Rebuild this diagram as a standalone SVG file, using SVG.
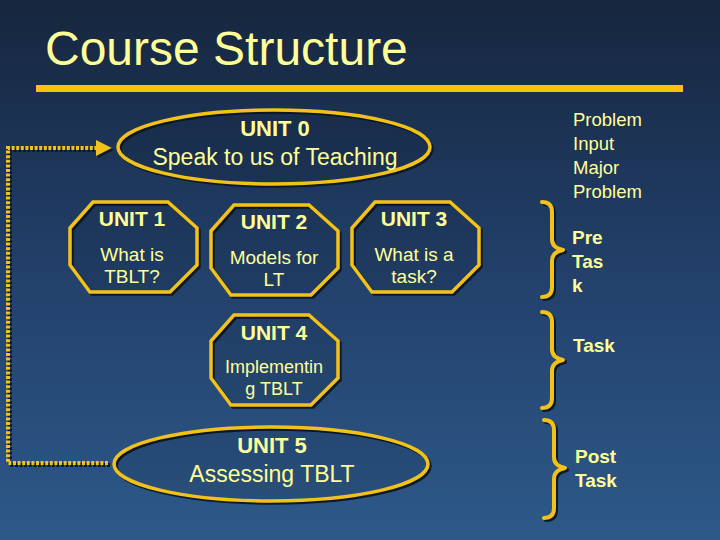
<svg xmlns="http://www.w3.org/2000/svg" width="720" height="540" viewBox="0 0 720 540">
<defs>
<linearGradient id="bg" x1="0" y1="0" x2="0" y2="1">
<stop offset="0" stop-color="#16263e"/>
<stop offset="0.5" stop-color="#22406a"/>
<stop offset="1" stop-color="#2d5989"/>
</linearGradient>
<marker id="arr" viewBox="0 0 10 10" refX="2" refY="5" markerWidth="4" markerHeight="4" orient="auto" markerUnits="strokeWidth">
<path d="M0,0 L10,5 L0,10 Z" fill="#f2c21a"/>
</marker>
<marker id="arrs" viewBox="0 0 10 10" refX="2" refY="5" markerWidth="4" markerHeight="4" orient="auto" markerUnits="strokeWidth">
<path d="M0,0 L10,5 L0,10 Z" fill="#0d1a2a"/>
</marker>
</defs>
<style>
.t{font-family:"Liberation Sans",Arial,sans-serif;fill:#ffff99;text-anchor:middle}
.b{font-weight:bold}
.l{text-anchor:start}
.shape{fill:#000;fill-opacity:0.08;stroke:#f2c21a;stroke-width:3.5}
.shd{fill:none;stroke:#0d1a2a;stroke-width:3.5}
.brace{fill:none;stroke:#f2c21a;stroke-width:4;stroke-linecap:round;stroke-linejoin:round}
.braces{fill:none;stroke:#0d1a2a;stroke-width:4;stroke-linecap:round;stroke-linejoin:round}
.dot{fill:none;stroke:#f2c21a;stroke-width:4;stroke-dasharray:3 1.6}
.dots{fill:none;stroke:#0d1a2a;stroke-width:4;stroke-dasharray:3 1.6}
</style>
<rect width="720" height="540" fill="url(#bg)"/>

<g id="title">
<text class="t l" x="45" y="65" font-size="48">Course Structure</text>
<rect x="36" y="85" width="647" height="7" fill="#f5c30f"/>
</g>

<g id="connectors">
<path class="dots" d="M110,465 H10 V150 H101" marker-end="url(#arrs)"/>
<path class="dot" d="M108,463 H8 V148 H99" marker-end="url(#arr)"/>
</g>

<g id="unit0">
<ellipse class="shd" cx="276" cy="149" rx="156" ry="37"/>
<ellipse class="shape" cx="274" cy="147" rx="156" ry="37"/>
<text class="t b" x="275" y="136" font-size="22">UNIT 0</text>
<text class="t" x="275" y="165" font-size="23">Speak to us of Teaching</text>
</g>

<g id="unit1">
<polygon class="shd" points="95,204 170,204 199,230 199,267 172,294 92,294 72,267 72,230"/>
<polygon class="shape" points="93,202 168,202 197,228 197,265 170,292 90,292 70,265 70,228"/>
<text class="t b" x="132" y="226" font-size="21">UNIT 1</text>
<text class="t" x="132" y="261" font-size="19">What is</text>
<text class="t" x="132" y="283" font-size="19">TBLT?</text>
</g>

<g id="unit2">
<polygon class="shd" points="236,207 311,207 340,233 340,270 313,297 233,297 213,270 213,233"/>
<polygon class="shape" points="234,205 309,205 338,231 338,268 311,295 231,295 211,268 211,231"/>
<text class="t b" x="274" y="229" font-size="21">UNIT 2</text>
<text class="t" x="274" y="264" font-size="19">Models for</text>
<text class="t" x="274" y="286" font-size="19">LT</text>
</g>

<g id="unit3">
<polygon class="shd" points="377,204 452,204 481,230 481,267 454,294 374,294 354,267 354,230"/>
<polygon class="shape" points="375,202 450,202 479,228 479,265 452,292 372,292 352,265 352,228"/>
<text class="t b" x="414" y="226" font-size="21">UNIT 3</text>
<text class="t" x="414" y="261" font-size="19">What is a</text>
<text class="t" x="414" y="283" font-size="19">task?</text>
</g>

<g id="unit4">
<polygon class="shd" points="236,317 311,317 340,343 340,380 313,407 233,407 213,380 213,343"/>
<polygon class="shape" points="234,315 309,315 338,341 338,378 311,405 231,405 211,378 211,341"/>
<text class="t b" x="274" y="340" font-size="21">UNIT 4</text>
<text class="t" x="274" y="373" font-size="18">Implementin</text>
<text class="t" x="274" y="395" font-size="18">g TBLT</text>
</g>

<g id="unit5">
<ellipse class="shd" cx="273" cy="466" rx="157" ry="37"/>
<ellipse class="shape" cx="271" cy="464" rx="157" ry="37"/>
<text class="t b" x="272" y="453" font-size="22">UNIT 5</text>
<text class="t" x="272" y="482" font-size="23">Assessing TBLT</text>
</g>

<g id="problem-text">
<text class="t l" x="573" y="126" font-size="18.5">Problem</text>
<text class="t l" x="573" y="150" font-size="18.5">Input</text>
<text class="t l" x="573" y="174" font-size="18.5">Major</text>
<text class="t l" x="573" y="198" font-size="18.5">Problem</text>
</g>

<g id="pretask">
<path class="braces" d="M544,204 Q554,204 554,214 V241 Q554,250 565,252 Q554,254 554,263 V289 Q554,299 544,299"/>
<path class="brace" d="M542,202 Q552,202 552,212 V239 Q552,248 563,250 Q552,252 552,261 V287 Q552,297 542,297"/>
<text class="t b l" x="572" y="244" font-size="19">Pre</text>
<text class="t b l" x="572" y="268" font-size="19">Tas</text>
<text class="t b l" x="572" y="292" font-size="19">k</text>
</g>

<g id="task">
<path class="braces" d="M544,314 Q554,314 554,324 V351 Q554,360 565,362 Q554,364 554,373 V400 Q554,410 544,410"/>
<path class="brace" d="M542,312 Q552,312 552,322 V349 Q552,358 563,360 Q552,362 552,371 V398 Q552,408 542,408"/>
<text class="t b l" x="573" y="352" font-size="19">Task</text>
</g>

<g id="posttask">
<path class="braces" d="M546,422 Q556,422 556,432 V459 Q556,468 567,470 Q556,472 556,481 V510 Q556,520 546,520"/>
<path class="brace" d="M544,420 Q554,420 554,430 V457 Q554,466 565,468 Q554,470 554,479 V508 Q554,518 544,518"/>
<text class="t b l" x="575" y="463" font-size="19">Post</text>
<text class="t b l" x="575" y="487" font-size="19">Task</text>
</g>
</svg>
